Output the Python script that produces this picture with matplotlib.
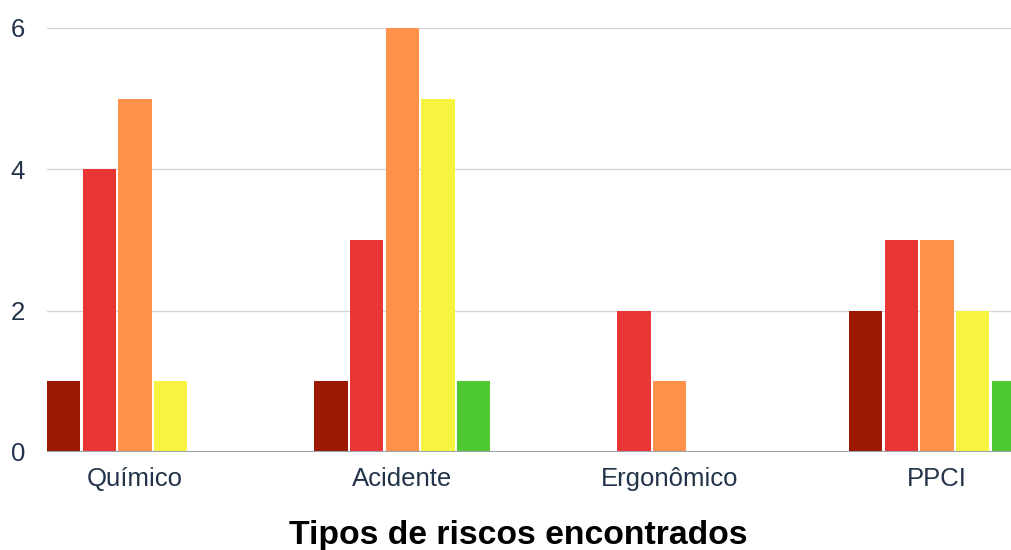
import matplotlib
matplotlib.use("Agg")
import matplotlib.pyplot as plt
import numpy as np

# Data
categories = ["Químico", "Acidente", "Ergonômico", "PPCI"]
series_colors = ["#9b1900", "#ea3535", "#ff914a", "#f7f43f", "#4dc931"]
values = [
    [1, 1, 0, 2],   # series 1 (dark red)
    [4, 3, 2, 3],   # series 2 (red)
    [5, 6, 1, 3],   # series 3 (orange)
    [1, 5, 0, 2],   # series 4 (yellow)
    [0, 1, 0, 1],   # series 5 (green)
]
yticks = [0, 2, 4, 6]

plt.rcParams["font.family"] = ["Liberation Sans", "DejaVu Sans"]

fig = plt.figure(figsize=(10.12, 5.5), dpi=100)
ax = fig.add_axes([0.0461, 0.1782, 0.9539, 0.7709])

x = np.arange(len(categories))
width = 0.1246
pitch = 0.1332
for i, (vals, col) in enumerate(zip(values, series_colors)):
    ax.bar(x + (i - 2) * pitch, vals, width=width, color=col, linewidth=0, zorder=3)

ax.set_xlim(-0.330, 3.2806)
ax.set_ylim(0, 6)
ax.set_yticks(yticks)
ax.set_yticklabels([str(t) for t in yticks])
ax.set_xticks(x)
ax.set_xticklabels(categories)

ax.grid(axis="y", color="#d3d8dc", linewidth=1.0, zorder=0)
ax.axhline(0, color="#9aa3ab", linewidth=1.5, zorder=4)
for s in ax.spines.values():
    s.set_visible(False)

ax.tick_params(axis="both", length=0, labelsize=18.5, labelcolor="#23344a")
ax.tick_params(axis="y", pad=15.5)
ax.tick_params(axis="x", pad=11)

fig.text(0.512, 0.027, "Tipos de riscos encontrados", ha="center", va="center",
         fontsize=24.3, fontweight="bold", color="#000000")

fig.savefig("out.png", dpi=100)
